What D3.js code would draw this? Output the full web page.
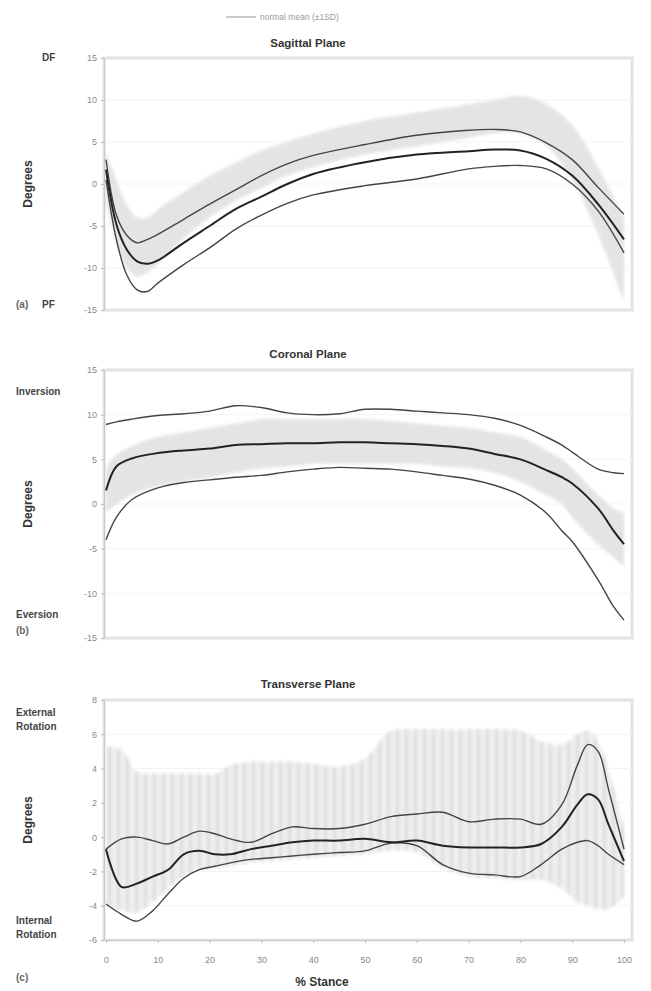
<!DOCTYPE html>
<html>
<head>
<meta charset="utf-8">
<script src="https://cdn.jsdelivr.net/npm/d3@7/dist/d3.min.js"></script>
<style>
  html, body { margin: 0; padding: 0; background: #fff; }
  svg { display: block; font-family: "Liberation Sans", Arial, sans-serif; }
</style>
</head>
<body>
<svg id="chart" width="651" height="991"></svg>
<script>
// ---- % stance sample points and kinematics (degrees) ----
const stanceTicks = [0, 10, 20, 30, 40, 50, 60, 70, 80, 90, 100];

// Sagittal plane (dorsiflexion +, plantarflexion -)
const sagPct   = [0, 2, 4, 6, 8, 10, 15, 20, 25, 30, 35, 40, 50, 60, 70, 75, 80, 85, 90, 95, 100];
const sagUpper = [2.9, -3.7, -6.1, -7.0, -6.6, -6.0, -4.2, -2.4, -0.7, 1.0, 2.4, 3.4, 4.7, 5.8, 6.4, 6.5, 6.2, 4.9, 2.9, -0.4, -3.6];
const sagMean  = [1.7, -4.8, -7.8, -9.2, -9.5, -9.1, -7.0, -5.0, -3.0, -1.5, 0.0, 1.2, 2.6, 3.5, 3.9, 4.1, 4.0, 3.0, 1.0, -2.4, -6.6];
const sagLower = [0.5, -6.6, -10.8, -12.6, -12.8, -11.8, -9.6, -7.6, -5.4, -3.7, -2.3, -1.3, -0.2, 0.6, 1.8, 2.1, 2.2, 1.8, 0.0, -3.2, -8.2];
const sagNormLo = [-2, -7, -10, -11, -10.5, -9.5, -6.5, -4, -2, -0.5, 1, 2, 3.5, 4.5, 5.5, 6, 6, 4.5, 0.5, -6, -14];
const sagNormHi = [4, 0.5, -2.5, -4, -4, -3, -1, 1, 2.5, 4, 5, 6, 7.5, 8.5, 9.5, 10, 10.5, 9.5, 7, 2, -4];
const sagTicks = [15, 10, 5, 0, -5, -10, -15];

// Coronal plane (inversion +, eversion -)
const corPct   = [0, 2, 5, 10, 15, 20, 25, 30, 35, 40, 45, 50, 55, 60, 65, 70, 75, 80, 85, 88, 90, 95, 98, 100];
const corUpper = [8.9, 9.2, 9.5, 9.9, 10.1, 10.4, 11.0, 10.8, 10.2, 10.0, 10.1, 10.6, 10.6, 10.4, 10.2, 10.0, 9.6, 8.8, 7.5, 6.6, 5.8, 3.9, 3.5, 3.4];
const corMean  = [1.5, 4.2, 5.1, 5.7, 6.0, 6.2, 6.6, 6.7, 6.8, 6.8, 6.9, 6.9, 6.8, 6.7, 6.5, 6.2, 5.6, 5.0, 3.8, 3.0, 2.3, -0.5, -3.0, -4.5];
const corLower = [-4.0, -1.5, 0.5, 1.8, 2.4, 2.7, 3.0, 3.2, 3.6, 3.9, 4.1, 4.0, 3.9, 3.6, 3.2, 2.8, 2.1, 1.0, -1.0, -3.0, -4.2, -8.5, -11.5, -13.0];
const corNormLo = [-1, 0, 1, 2, 2.5, 3, 3.5, 4, 4.2, 4.5, 4.5, 4.5, 4.5, 4.5, 4.2, 4, 3.5, 2.5, 1, 0, -1.5, -4.5, -6, -7];
const corNormHi = [4, 5.5, 6.5, 7.5, 8, 8.5, 9, 9.5, 9.5, 9.5, 9.5, 9.5, 9.3, 9, 8.8, 8.5, 8, 7.5, 6, 5, 4, 1, -0.5, -1];
const corTicks = [15, 10, 5, 0, -5, -10, -15];

// Transverse plane (external rotation +, internal rotation -)
const traPct   = [0, 3, 6, 9, 12, 15, 18, 21, 24, 28, 32, 36, 40, 45, 50, 55, 60, 65, 70, 75, 80, 84, 88, 91, 93, 95, 97, 100];
const traUpper = [-0.7, -0.1, 0.0, -0.2, -0.4, 0.0, 0.35, 0.2, -0.1, -0.3, 0.2, 0.6, 0.5, 0.5, 0.75, 1.2, 1.35, 1.45, 0.9, 1.05, 1.05, 0.75, 1.9, 4.2, 5.4, 5.0, 2.8, -0.7];
const traMean  = [-0.7, -2.9, -2.7, -2.3, -1.9, -1.0, -0.8, -1.0, -1.0, -0.7, -0.5, -0.3, -0.2, -0.2, -0.1, -0.3, -0.2, -0.5, -0.6, -0.6, -0.6, -0.4, 0.6, 1.9, 2.5, 2.2, 0.75, -1.4];
const traLower = [-3.9, -4.5, -4.9, -4.3, -3.3, -2.4, -1.9, -1.7, -1.5, -1.3, -1.2, -1.1, -1.0, -0.9, -0.8, -0.35, -0.5, -1.6, -2.1, -2.2, -2.3, -1.6, -0.7, -0.3, -0.2, -0.5, -1.0, -1.6];
const traNormLo = [-4, -4.3, -4.4, -3.8, -3, -2.3, -1.9, -1.8, -1.7, -1.5, -1.4, -1.3, -1.2, -1.1, -1.0, -0.8, -0.9, -1.8, -2.3, -2.4, -2.5, -2.5, -3, -3.8, -4, -4.2, -4.2, -3.5];
const traNormHi = [5.3, 5.1, 3.8, 3.7, 3.7, 3.7, 3.7, 3.7, 4.2, 4.4, 4.4, 4.4, 4.3, 4.1, 4.6, 6.2, 6.3, 6.3, 6.3, 6.3, 6.2, 5.6, 5.4, 6.0, 6.2, 5.6, 4.0, 0.5];
const traTicks = [8, 6, 4, 2, 0, -2, -4, -6];

// ---- layout ----
const svg = d3.select("#chart");
const plotLeft = 104, plotRight = 632;
const titleX = 308;
const x = d3.scaleLinear().domain([0, 100]).range([106, 624]);

const panels = [
  { title: "Sagittal Plane", titleY: 47, top: 58, bottom: 310, domain: [-15, 15], ticks: sagTicks,
    pct: sagPct, upper: sagUpper, mean: sagMean, lower: sagLower, lo: sagNormLo, hi: sagNormHi,
    topLabel: ["DF"], bottomLabel: ["PF"], tag: "(a)", striped: false },
  { title: "Coronal Plane", titleY: 358, top: 370, bottom: 638, domain: [-15, 15], ticks: corTicks,
    pct: corPct, upper: corUpper, mean: corMean, lower: corLower, lo: corNormLo, hi: corNormHi,
    topLabel: ["Inversion"], bottomLabel: ["Eversion"], tag: "(b)", striped: false },
  { title: "Transverse Plane", titleY: 688, top: 700, bottom: 940, domain: [-6, 8], ticks: traTicks,
    pct: traPct, upper: traUpper, mean: traMean, lower: traLower, lo: traNormLo, hi: traNormHi,
    topLabel: ["External", "Rotation"], bottomLabel: ["Internal", "Rotation"], tag: "(c)", striped: true }
];

const defs = svg.append("defs");
const pat = defs.append("pattern").attr("id", "stripes").attr("patternUnits", "userSpaceOnUse")
  .attr("width", 9).attr("height", 9);
pat.append("rect").attr("width", 9).attr("height", 9).attr("fill", "#efefef");
pat.append("rect").attr("x", 0).attr("width", 3).attr("height", 9).attr("fill", "#dcdcdc");
defs.append("filter").attr("id", "soft").append("feGaussianBlur").attr("stdDeviation", 1.6);

// legend
const lg = svg.append("g").attr("transform", "translate(0,17)");
lg.append("line").attr("x1", 226).attr("x2", 256).attr("y1", 0).attr("y2", 0)
  .attr("stroke", "#bbb").attr("stroke-width", 1.5);
lg.append("text").attr("x", 260).attr("y", 3).attr("font-size", 8.5).attr("fill", "#999")
  .text("normal mean (±1SD)");

panels.forEach((p, i) => {
  const y = d3.scaleLinear().domain(p.domain).range([p.bottom, p.top]);
  const g = svg.append("g");
  const clipId = "clip" + i;
  defs.append("clipPath").attr("id", clipId).append("rect")
    .attr("x", plotLeft).attr("y", p.top).attr("width", plotRight - plotLeft).attr("height", p.bottom - p.top);

  // frame of the plotting area
  g.append("rect").attr("x", plotLeft).attr("y", p.top)
    .attr("width", plotRight - plotLeft).attr("height", p.bottom - p.top)
    .attr("fill", "#fff").attr("stroke", "#e2e2e2").attr("stroke-width", 3);

  // faint horizontal grid
  g.append("g").selectAll("line").data(p.ticks.slice(1, -1)).join("line")
    .attr("x1", plotLeft).attr("x2", plotRight)
    .attr("y1", d => y(d)).attr("y2", d => y(d))
    .attr("stroke", "#f3f3f3").attr("stroke-width", 1);

  const rows = p.pct.map((v, k) => ({ s: v, up: p.upper[k], m: p.mean[k], lw: p.lower[k], lo: p.lo[k], hi: p.hi[k] }));
  const curve = d3.curveCatmullRom.alpha(0.5);

  const inner = g.append("g").attr("clip-path", `url(#${clipId})`);
  // normal range band
  inner.append("path").datum(rows)
    .attr("d", d3.area().curve(curve).x(d => x(d.s)).y0(d => y(d.lo)).y1(d => y(d.hi)))
    .attr("fill", p.striped ? "url(#stripes)" : "#e4e4e4")
    .attr("filter", "url(#soft)");

  // group mean and ±1SD
  const line = key => d3.line().curve(curve).x(d => x(d.s)).y(d => y(d[key]));
  [["up", 1.4, "#444"], ["lw", 1.4, "#444"], ["m", 2, "#222"]].forEach(([k, w, c]) => {
    inner.append("path").datum(rows).attr("d", line(k))
      .attr("fill", "none").attr("stroke", c).attr("stroke-width", w);
  });

  // y axis
  const ax = g.append("g").attr("transform", `translate(${plotLeft},0)`)
    .call(d3.axisLeft(y).tickValues(p.ticks).tickSize(3).tickPadding(4)
      .tickFormat(d => (d < 0 ? "-" : "") + Math.abs(d)));
  ax.select(".domain").attr("stroke", "#c8c8c8");
  ax.selectAll(".tick line").attr("stroke", "#bbb");
  ax.selectAll(".tick text").attr("fill", "#888").attr("font-size", 9)
    .attr("font-family", "Liberation Sans, Arial, sans-serif");

  // titles and labels
  svg.append("text").attr("x", titleX).attr("y", p.titleY).attr("text-anchor", "middle")
    .attr("font-size", 11.5).attr("font-weight", "bold").attr("fill", "#333").text(p.title);
  svg.append("text").attr("transform", `translate(32,${(p.top + p.bottom) / 2}) rotate(-90)`)
    .attr("text-anchor", "middle").attr("font-size", 12).attr("font-weight", "bold").attr("fill", "#333")
    .text("Degrees");

  const lblX = p.topLabel[0].length > 2 ? 16 : 42;
  p.topLabel.forEach((t, k) => {
    svg.append("text").attr("x", lblX).attr("y", (p.topLabel.length > 1 ? p.top + 16 : p.top + (t.length > 2 ? 25 : 3)) + k * 14)
      .attr("font-size", 10).attr("font-weight", "bold").attr("fill", "#444").text(t);
  });
  p.bottomLabel.forEach((t, k) => {
    const by = p.bottomLabel.length > 1 ? p.bottom - 16 + k * 14 : (t.length > 2 ? p.bottom - 20 : p.bottom - 2);
    svg.append("text").attr("x", lblX).attr("y", by)
      .attr("font-size", 10).attr("font-weight", "bold").attr("fill", "#444").text(t);
  });
  const tagY = i === 0 ? p.bottom - 2 : (i === 1 ? p.bottom - 4 : 981);
  svg.append("text").attr("x", 16).attr("y", tagY).attr("font-size", 10)
    .attr("font-weight", "bold").attr("fill", "#666").text(p.tag);

  // x axis on the last panel
  if (i === panels.length - 1) {
    const xa = svg.append("g").attr("transform", `translate(0,${p.bottom})`)
      .call(d3.axisBottom(x).tickValues(stanceTicks).tickSize(3).tickPadding(14));
    xa.select(".domain").attr("stroke", "#c8c8c8");
    xa.selectAll(".tick line").attr("stroke", "#bbb");
    xa.selectAll(".tick text").attr("fill", "#888").attr("font-size", 9)
      .attr("font-family", "Liberation Sans, Arial, sans-serif");
    svg.append("text").attr("x", 322).attr("y", 986).attr("text-anchor", "middle")
      .attr("font-size", 12).attr("font-weight", "bold").attr("fill", "#333").text("% Stance");
  }
});
</script>
</body>
</html>
